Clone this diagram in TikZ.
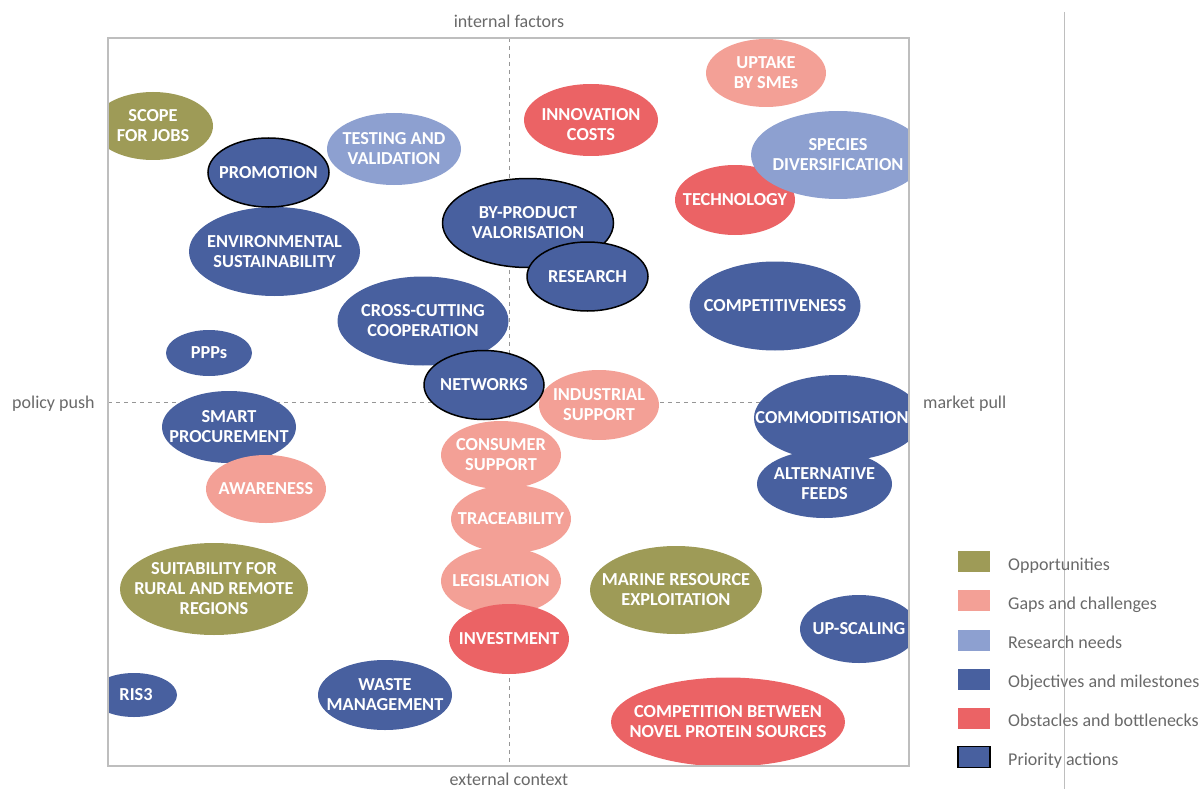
\documentclass[tikz,border=0pt]{standalone}
\usepackage{fontspec}
\setmainfont{Carlito}
\definecolor{cOpp}{RGB}{158,155,87}
\definecolor{cGap}{RGB}{243,160,150}
\definecolor{cRes}{RGB}{141,160,208}
\definecolor{cObj}{RGB}{72,96,159}
\definecolor{cObs}{RGB}{235,99,101}
\definecolor{cFrame}{RGB}{190,190,190}
\definecolor{cAxis}{RGB}{105,105,105}
\tikzset{
  lbl/.style={inner sep=0pt, align=center, text=white, font=\fontsize{18.3}{20}\selectfont\bfseries},
  opp/.style={fill=cOpp},
  gap/.style={fill=cGap},
  res/.style={fill=cRes},
  obj/.style={fill=cObj},
  obs/.style={fill=cObs},
  prio/.style={fill=cObj, draw=black, line width=1.5pt},
  axislbl/.style={inner sep=0pt, text=cAxis, font=\fontsize{18}{21}\selectfont},
  leglbl/.style={inner sep=0pt, anchor=west, text=cAxis, font=\fontsize{18}{21}\selectfont},
  legbox/.style={minimum width=32pt, minimum height=21pt, inner sep=0pt},
}
\newcommand\blob[7]{%
  \path[#6] (#2,#3) ellipse [x radius=#4, y radius=#5];
  \node[lbl] (#1) at (#2,#3) {#7};}
\begin{document}
\begin{tikzpicture}[x=1pt,y=-1pt]
\useasboundingbox (0,0) rectangle (1202,789);
% axes
\coordinate (top) at (509,38);
\coordinate (bot) at (509,766);
\coordinate (lft) at (108,402);
\coordinate (rgt) at (909,402);
\draw[cAxis!70, dashed, dash pattern=on 4pt off 4pt, line width=0.8pt] (top) -- (bot);
\draw[cAxis!70, dashed, dash pattern=on 4pt off 4pt, line width=0.8pt] (lft) -- (rgt);
\begin{scope}
\clip (108,38) rectangle (909,766);
\blob{jobs}{153}{126}{60}{34}{opp}{SCOPE\\FOR JOBS}
\blob{testing}{394}{149}{67}{36}{res}{TESTING AND\\VALIDATION}
\blob{env}{274.5}{251.5}{85.5}{44.5}{obj}{ENVIRONMENTAL\\SUSTAINABILITY}
\blob{promo}{268.5}{172.5}{60.5}{34.5}{prio}{PROMOTION}
\path[obs] (591,120) ellipse [x radius=67, y radius=36];
\node[lbl] (innov) at (591,125) {INNOVATION\\COSTS};
\blob{uptake}{766}{73}{60}{34}{gap}{UPTAKE\\BY SMEs}
\blob{tech}{735}{200}{60}{35}{obs}{TECHNOLOGY}
\blob{species}{838}{155}{87}{44}{res}{SPECIES\\DIVERSIFICATION}
\blob{byprod}{528}{223}{85.5}{44.5}{prio}{BY-PRODUCT\\VALORISATION}
\blob{research}{587.5}{276.5}{60.5}{34.5}{prio}{RESEARCH}
\blob{compet}{775}{306}{85.5}{44.5}{obj}{COMPETITIVENESS}
\blob{cross}{423}{321}{85.5}{44.5}{obj}{CROSS-CUTTING\\COOPERATION}
\blob{ppp}{209}{353}{43}{23}{obj}{PPPs}
\blob{indus}{599}{405}{60}{35}{gap}{INDUSTRIAL\\SUPPORT}
\blob{networks}{484}{385}{60}{34.5}{prio}{NETWORKS}
\blob{altfeed}{824.5}{484}{67.5}{34}{obj}{ALTERNATIVE\\FEEDS}
\path[obj] (838,418) ellipse [x radius=84, y radius=43];
\node[lbl] (commod) at (832,418) {COMMODITISATION};
\blob{smart}{229}{427}{67}{36}{obj}{SMART\\PROCUREMENT}
\blob{aware}{266}{489}{60}{34}{gap}{AWARENESS}
\blob{consumer}{501}{455}{60}{34}{gap}{CONSUMER\\SUPPORT}
\blob{trace}{511}{519}{60}{34}{gap}{TRACEABILITY}
\blob{legis}{501}{581}{60}{34}{gap}{LEGISLATION}
\blob{invest}{509}{639}{60}{35}{obs}{INVESTMENT}
\blob{rural}{214}{589}{94}{46}{opp}{SUITABILITY FOR\\RURAL AND REMOTE\\REGIONS}
\blob{marine}{676}{590}{86}{44}{opp}{MARINE RESOURCE\\EXPLOITATION}
\blob{upscale}{859}{629}{59}{34}{obj}{UP-SCALING}
\path[obj] (134,695) ellipse [x radius=43, y radius=22];
\node[lbl] (ris) at (136,695) {RIS3};
\blob{waste}{385}{695}{67}{35}{obj}{WASTE\\MANAGEMENT}
\blob{compnov}{728}{722}{117}{44.5}{obs}{COMPETITION BETWEEN\\NOVEL PROTEIN SOURCES}
\end{scope}
% frame
\draw[cFrame, line width=1.3pt] (108,38) rectangle (909,766);
% axis labels
\node[axislbl, anchor=base] (internal) at (509,28) {internal factors};
\node[axislbl, anchor=base] (external) at (509,785.5) {external context};
\node[axislbl, anchor=base west] (policy) at (12,408) {policy push};
\node[axislbl, anchor=base west] (market) at (923,408) {market pull};
% separator
\coordinate (sepA) at (1064,12);
\coordinate (sepB) at (1064,789);
\draw[cFrame, line width=0.8pt] (sepA) -- (sepB);
% legend
\node[legbox, fill=cOpp] (l1) at (974,561) {};
\node[leglbl, anchor=base west] (t1) at (1008,570) {Opportunities};
\node[legbox, fill=cGap] (l2) at (974,600) {};
\node[leglbl, anchor=base west] (t2) at (1008,609) {Gaps and challenges};
\node[legbox, fill=cRes] (l3) at (974,640) {};
\node[leglbl, anchor=base west] (t3) at (1008,648) {Research needs};
\node[legbox, fill=cObj] (l4) at (974,679) {};
\node[leglbl, anchor=base west] (t4) at (1008,687) {Objectives and milestones};
\node[legbox, fill=cObs] (l5) at (974,718) {};
\node[leglbl, anchor=base west] (t5) at (1008,726) {Obstacles and bottlenecks};
\node[legbox, fill=cObj, draw=black, line width=1.5pt] (l6) at (974,757) {};
\node[leglbl, anchor=base west] (t6) at (1008,765) {Priority actions};
\end{tikzpicture}
\end{document}
